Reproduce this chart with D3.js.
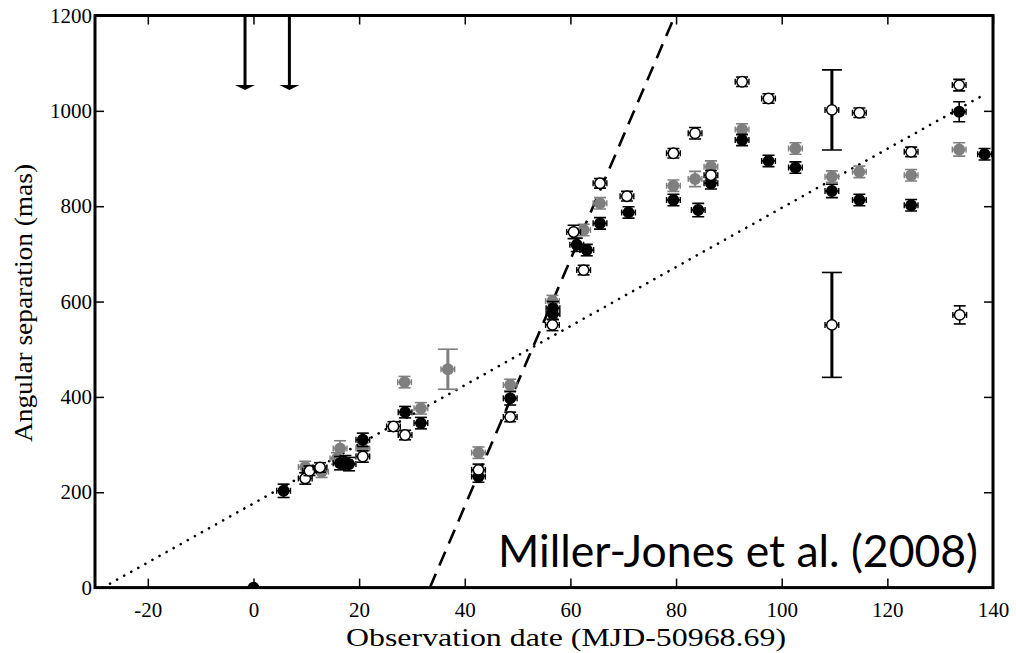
<!DOCTYPE html>
<html><head><meta charset="utf-8">
<script src="https://cdn.jsdelivr.net/npm/d3@7"></script>
<style>body{margin:0;background:#fff}svg{display:block}</style>
</head><body>
<svg id="c" width="1016" height="653"></svg>
<script>
// ---- data (x = days since MJD 50968.69, y = separation in mas, e = y error in mas)
const xTicks = [-20, 0, 20, 40, 60, 80, 100, 120, 140];
const yTicks = [0, 200, 400, 600, 800, 1000, 1200];
const blackPts = [
  [0,0,0],[5.7,203,14],[16.4,261,14],[17.4,263,14],[18.1,259,14],[20.7,310,14],
  [28.7,368,12],[31.7,345,12],[42.6,233,12],[48.6,397,14],[56.7,586,14],[56.7,574,12],
  [61.2,719,14],[63.1,708,12],[65.6,764,12],[71.0,787,12],[79.5,813,12],[84.2,792,14],
  [86.6,848,12],[92.5,939,12],[97.5,895,12],[102.6,881,12],[109.5,832,14],[114.7,813,12],
  [124.5,802,12],[133.6,998,21],[138.4,909,12]
];
const grayPts = [
  [9.8,253,12],[12.9,243,12],[15.8,271,12],[16.4,292,16],[20.7,292,12],[28.6,431,12],
  [31.7,376,12],[36.8,458,42],[42.6,283,12],[48.6,425,12],[56.6,601,12],[62.5,750,12],
  [65.6,806,12],[79.5,843,12],[83.6,857,16],[86.6,883,12],[92.5,961,12],[102.6,921,12],
  [109.5,862,12],[114.7,872,12],[124.5,865,12],[133.6,919,14]
];
const openPts = [
  [9.8,229,12],[10.6,245,10],[12.6,252,10],[20.7,275,12],[26.5,338,10],[28.7,320,10],
  [42.6,247,12],[48.6,358,10],[56.6,551,12],[60.6,746,14],[62.5,666,10],[65.6,848,10],
  [70.7,821,10],[79.5,911,10],[83.6,953,12],[86.6,865,10],[92.5,1061,10],[97.5,1026,10],
  [109.5,1002,84],[109.5,551,110],[114.7,996,10],[124.5,914,10],[133.6,1054,12],[133.7,572,19]
];
const upperLimitX = [-1.6, 6.8];
const upperLimitY = 1048;
const slowFit = [[-28.5, 0], [138.5, 1035]];
const fastFit = [[33.4, 0], [79.8, 1200]];
const xTitle = "Observation date (MJD-50968.69)";
const yTitle = "Angular separation (mas)";
const credit = "Miller-Jones et al. (2008)";

// ---- layout
const L = 95, R = 993, T = 15.5, B = 587.6;
const x = d3.scaleLinear().domain([-30, 140]).range([L, R]);
const y = d3.scaleLinear().domain([0, 1200]).range([B, T]);
const svg = d3.select("#c");
const serif = "'Liberation Serif','Times New Roman',serif";

const defs = svg.append("defs");
defs.append("clipPath").attr("id","clip").append("rect")
  .attr("x", L).attr("y", T).attr("width", R-L).attr("height", B-T);

// fit lines
const line = d3.line().x(d => x(d[0])).y(d => y(d[1]));
const plot = svg.append("g").attr("clip-path","url(#clip)");
plot.append("path").attr("d", line(slowFit)).attr("fill","none")
  .attr("stroke","#000").attr("stroke-width",2.6).attr("stroke-linecap","round")
  .attr("stroke-dasharray","0.1,8");
plot.append("path").attr("d", line(fastFit)).attr("fill","none")
  .attr("stroke","#000").attr("stroke-width",2.6)
  .attr("stroke-dasharray","15,9");

// upper limits
upperLimitX.forEach(v => {
  const g = svg.append("g");
  const cx = x(v), ty = y(upperLimitY);
  g.append("line").attr("x1", cx).attr("x2", cx).attr("y1", y(1200)).attr("y2", ty)
    .attr("stroke","#000").attr("stroke-width",3);
  g.append("path").attr("d", `M${cx-10},${ty-3} L${cx+10},${ty-3} L${cx},${ty+2} Z`)
    .attr("fill","#000");
});

// points
const xErr = 1.3;
function drawSeries(data, fill, stroke, barColor) {
  const g = plot.append("g");
  data.forEach(([px, py, e]) => {
    const cx = x(px), cy = y(py);
    const big = e > 30;
    const cap = big ? 10 : 6;
    const sw = big ? 3 : 1.6;
    if (e > 0) {
      g.append("line").attr("x1",cx).attr("x2",cx).attr("y1",y(py-e)).attr("y2",y(py+e))
        .attr("stroke",barColor).attr("stroke-width",sw);
      [py-e, py+e].forEach(v => g.append("line").attr("x1",cx-cap).attr("x2",cx+cap)
        .attr("y1",y(v)).attr("y2",y(v)).attr("stroke",barColor).attr("stroke-width",1.6));
      g.append("line").attr("x1",x(px-xErr)).attr("x2",x(px+xErr)).attr("y1",cy).attr("y2",cy)
        .attr("stroke",barColor).attr("stroke-width",1.6);
      [px-xErr, px+xErr].forEach(v => g.append("line").attr("x1",x(v)).attr("x2",x(v))
        .attr("y1",cy-3).attr("y2",cy+3).attr("stroke",barColor).attr("stroke-width",1.4));
    }
    g.append("circle").attr("cx",cx).attr("cy",cy).attr("r",5.2)
      .attr("fill",fill).attr("stroke",stroke).attr("stroke-width",1.5);
  });
}
drawSeries(grayPts, "#7f7f7f", "#7f7f7f", "#7f7f7f");
drawSeries(blackPts, "#000", "#000", "#000");
drawSeries(openPts, "#fff", "#000", "#000");

// frame + ticks
svg.append("rect").attr("x",L).attr("y",T).attr("width",R-L).attr("height",B-T)
  .attr("fill","none").attr("stroke","#000").attr("stroke-width",3);
const tk = 9;
const fmt = d => String(d);
const axB = svg.append("g").attr("transform",`translate(0,${B})`)
  .call(d3.axisBottom(x).tickValues(xTicks).tickSize(-tk).tickPadding(tk+5).tickFormat(fmt));
const axT = svg.append("g").attr("transform",`translate(0,${T})`)
  .call(d3.axisTop(x).tickValues(xTicks).tickSize(-tk).tickFormat(""));
const axL = svg.append("g").attr("transform",`translate(${L},0)`)
  .call(d3.axisLeft(y).tickValues(yTicks).tickSize(-tk).tickPadding(tk-6).tickFormat(fmt));
const axR = svg.append("g").attr("transform",`translate(${R},0)`)
  .call(d3.axisRight(y).tickValues(yTicks).tickSize(-tk).tickFormat(""));
[axB, axT, axL, axR].forEach(a => {
  a.select(".domain").remove();
  a.selectAll(".tick line").attr("stroke","#000").attr("stroke-width",1.5);
  a.selectAll(".tick text").attr("fill","#000").style("font-family",serif).style("font-size","21px");
});
axB.selectAll(".tick").filter(d => d === 140).select("line").remove();
axL.selectAll(".tick").filter(d => d === 0 || d === 1200).select("line").remove();

// titles
svg.append("text").attr("x", 566).attr("y", 646).attr("text-anchor","middle")
  .attr("textLength", 440).attr("lengthAdjust","spacingAndGlyphs")
  .style("font-family",serif).style("font-size","26px").text(xTitle);
svg.append("text").attr("transform","translate(32,303) rotate(-90)").attr("text-anchor","middle")
  .attr("textLength", 278).attr("lengthAdjust","spacingAndGlyphs")
  .style("font-family",serif).style("font-size","26px").text(yTitle);

// credit
svg.append("text").attr("x", 498).attr("y", 567)
  .attr("textLength", 480).attr("lengthAdjust","spacingAndGlyphs")
  .style("font-family","Lato, 'Open Sans', sans-serif").style("font-size","44px").attr("fill","#000")
  .text(credit);
</script>
</body></html>
